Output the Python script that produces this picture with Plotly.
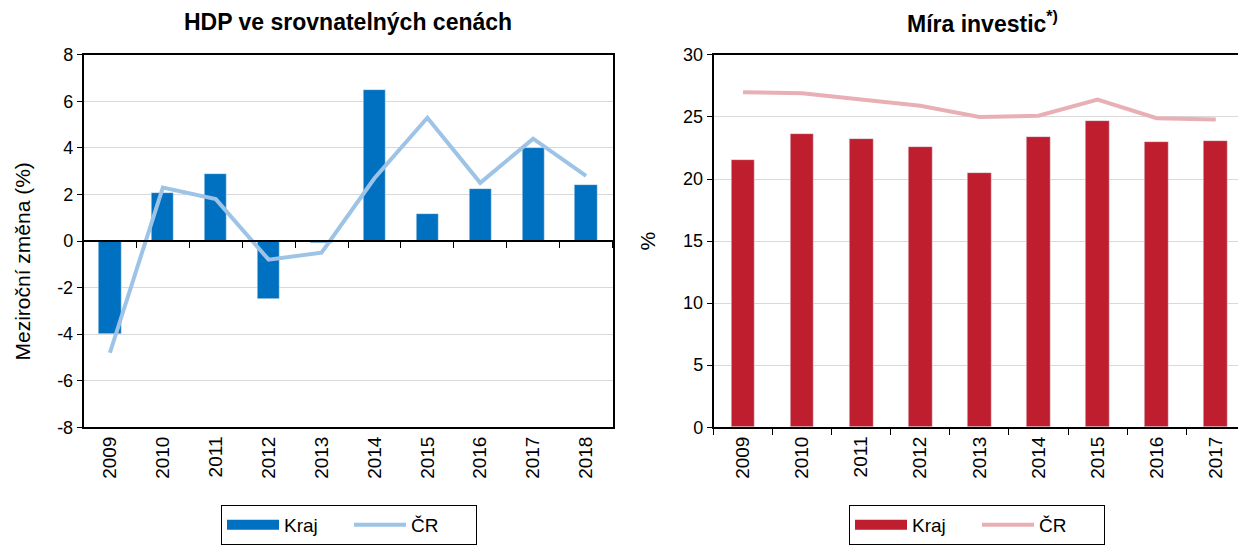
import plotly.graph_objects as go

# HDP ve srovnatelných cenách (meziroční změna v %)
years_hdp = ['2009', '2010', '2011', '2012', '2013', '2014', '2015', '2016', '2017', '2018']
hdp_kraj = [-4.0, 2.05, 2.9, -2.5, -0.1, 6.5, 1.15, 2.25, 4.0, 2.4]
hdp_cr = [-4.8, 2.3, 1.8, -0.8, -0.5, 2.7, 5.3, 2.5, 4.4, 2.8]
hdp_ticks = [-8, -6, -4, -2, 0, 2, 4, 6, 8]
hdp_ticktext = ['-8', '-6', '-4', '-2', '0', '2', '4', '6', '8']

# Míra investic (%)
years_inv = ['2009', '2010', '2011', '2012', '2013', '2014', '2015', '2016', '2017']
inv_kraj = [21.5, 23.6, 23.2, 22.6, 20.5, 23.4, 24.7, 23.0, 23.1]
inv_cr = [27.0, 26.9, 26.4, 25.9, 25.0, 25.1, 26.4, 24.9, 24.8]

BLUE = '#0070c0'
LIGHT_BLUE = '#9dc3e6'
RED = '#be1e2d'
PINK = '#e8b0b4'
GRID = '#d9d9d9'
FONT = 'Liberation Sans, Arial, sans-serif'

Y0, Y1 = 1 - 428 / 545, 1 - 55 / 545

fig = go.Figure()

# left chart
fig.add_trace(go.Bar(x=years_hdp, y=hdp_kraj, width=0.42, marker_color=BLUE,
                     showlegend=False, xaxis='x', yaxis='y'))
fig.add_trace(go.Scatter(x=[None], y=[None], mode='lines', name='Kraj',
                         line=dict(color=BLUE, width=10), legend='legend',
                         xaxis='x', yaxis='y'))
fig.add_trace(go.Scatter(x=years_hdp, y=hdp_cr, mode='lines', name='ČR',
                         line=dict(color=LIGHT_BLUE, width=4), legend='legend',
                         xaxis='x3', yaxis='y'))

# right chart
fig.add_trace(go.Bar(x=years_inv, y=inv_kraj, width=0.4, marker_color=RED,
                     showlegend=False, xaxis='x2', yaxis='y2'))
fig.add_trace(go.Scatter(x=[None], y=[None], mode='lines', name='Kraj',
                         line=dict(color=RED, width=10), legend='legend2',
                         xaxis='x2', yaxis='y2'))
fig.add_trace(go.Scatter(x=years_inv, y=inv_cr, mode='lines', name='ČR',
                         line=dict(color=PINK, width=4), legend='legend2',
                         xaxis='x2', yaxis='y2'))

ytick_font = dict(family=FONT, size=18, color='black')
xtick_font = dict(family=FONT, size=19, color='black')
title_font = dict(family=FONT, size=21, color='black')
legend_style = dict(orientation='h', bordercolor='black', borderwidth=1,
                    bgcolor='white', font=dict(family=FONT, size=19, color='black'),
                    itemwidth=52, entrywidth=60, yanchor='top', y=1 - 506 / 545,
                    xanchor='center')

fig.update_layout(
    width=1238, height=545,
    margin=dict(l=0, r=0, t=0, b=0),
    plot_bgcolor='white', paper_bgcolor='white',
    font=dict(family=FONT, color='black'),
    bargap=0,
    xaxis=dict(domain=[83.5 / 1238, 612.5 / 1238], anchor='y', type='category',
               range=[-0.5, 9.5], showline=True, linecolor='black', linewidth=1.5,
               mirror=True, ticks='', tickangle=-90, tickfont=xtick_font,
               showgrid=False, automargin=False),
    xaxis3=dict(overlaying='x', anchor='free', position=Y0 + 0.5 * (Y1 - Y0),
                type='category', range=[-0.5, 9.5], showline=True,
                linecolor='black', linewidth=1.5, ticks='outside',
                tickson='boundaries', ticklen=6, tickcolor='black',
                showticklabels=False, showgrid=False, automargin=False),
    yaxis=dict(domain=[Y0, Y1], anchor='x', range=[-8, 8],
               tickmode='array', tickvals=hdp_ticks, ticktext=hdp_ticktext,
               showline=True, linecolor='black', linewidth=1.5, mirror=True,
               ticks='outside', ticklen=5, tickcolor='black', tickfont=ytick_font,
               gridcolor=GRID, zeroline=False, automargin=False),
    xaxis2=dict(domain=[713.5 / 1238, 1.0], anchor='y2', type='category',
                range=[-0.5, 8.376], showline=True, linecolor='black',
                linewidth=1.5, mirror=True, ticks='outside', tickson='boundaries',
                ticklen=6, tickcolor='black', tickangle=-90, tickfont=xtick_font,
                showgrid=False, automargin=False),
    yaxis2=dict(domain=[Y0, Y1], anchor='x2', range=[0, 30], dtick=5,
                showline=True, linecolor='black', linewidth=1.5,
                ticks='outside', ticklen=5, tickcolor='black', tickfont=ytick_font,
                gridcolor=GRID, zeroline=False, automargin=False,
                title=dict(text='%', standoff=22, font=title_font)),
    legend=dict(x=349 / 1238, **legend_style),
    legend2=dict(x=977 / 1238, **legend_style),
    annotations=[
        dict(text='<b>HDP ve srovnatelných cenách</b>', xref='paper', yref='paper',
             x=348 / 1238, y=1 - 22 / 545, xanchor='center', yanchor='middle',
             showarrow=False, font=dict(family=FONT, size=23, color='black')),
        dict(text='<b>Míra investic<sup>*)</sup></b>', xref='paper', yref='paper',
             x=982 / 1238, y=1 - 22 / 545, xanchor='center', yanchor='middle',
             showarrow=False, font=dict(family=FONT, size=23, color='black')),
        dict(text='Meziroční změna (%)', xref='paper', yref='paper',
             x=23 / 1238, y=1 - 262 / 545, xanchor='center', yanchor='middle',
             textangle=-90, showarrow=False, font=title_font),
    ],
)

fig.write_html('out.html', config=dict(displayModeBar=False),
               post_script="document.body.style.margin='0';")
